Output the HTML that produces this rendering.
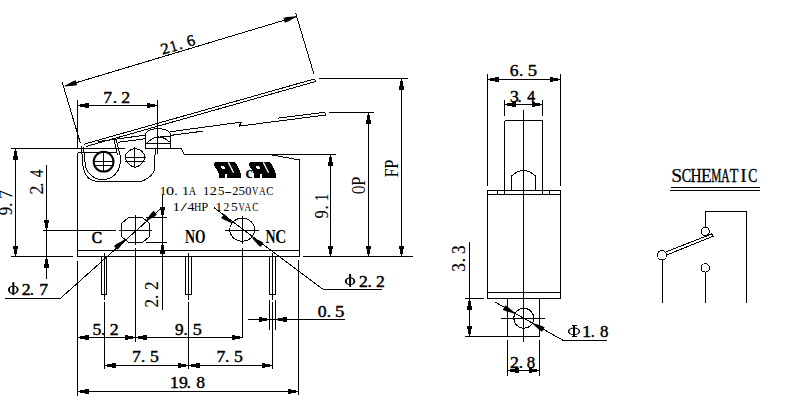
<!DOCTYPE html>
<html><head><meta charset="utf-8"><style>
html,body{margin:0;padding:0;background:#fff;width:790px;height:420px;overflow:hidden}
svg{display:block}
text{fill:#000;stroke:none}
</style></head><body>
<svg width="790" height="420" viewBox="0 0 790 420" stroke="#000" stroke-width="1" fill="none" shape-rendering="crispEdges">
<rect x="0" y="0" width="790" height="420" fill="#fff" stroke="none"/>
<line x1="62.1" y1="81.9" x2="80.5" y2="143.5" stroke-width="1" />
<line x1="295.7" y1="13.3" x2="313.9" y2="73.9" stroke-width="1" />
<line x1="64.5" y1="86.2" x2="296.1" y2="16.7" stroke-width="1" />
<polygon points="64.64,85.63 68.89,83.42 72.46,81.41 75.75,80.21 77.19,85.00 73.78,85.82 69.69,86.10 64.93,86.59" fill="#000" stroke="none" shape-rendering="geometricPrecision"/>
<polygon points="295.96,17.27 291.71,19.48 288.14,21.49 284.85,22.69 283.41,17.90 286.82,17.08 290.91,16.80 295.67,16.31" fill="#000" stroke="none" shape-rendering="geometricPrecision"/>
<text transform="translate(163.0 54.5) rotate(-16.704) translate(-0.51 0) scale(1.064 1.0)" font-size="15.82" font-weight="normal" font-family="Liberation Serif" style="stroke:#000;stroke-width:0.42px">2</text>
<text transform="translate(163.0 54.5) rotate(-16.704) translate(9.04 0) scale(0.853 1.0)" font-size="15.82" font-weight="normal" font-family="Liberation Serif" style="stroke:#000;stroke-width:0.53px">1</text>
<text transform="translate(163.0 54.5) rotate(-16.704) translate(17.26 0) scale(1.000 1.0)" font-size="15.82" font-weight="normal" font-family="Liberation Serif" style="stroke:#000;stroke-width:0.45px">.</text>
<text transform="translate(163.0 54.5) rotate(-16.704) translate(26.55 0) scale(0.999 1.0)" font-size="15.82" font-weight="normal" font-family="Liberation Serif" style="stroke:#000;stroke-width:0.45px">6</text>
<line x1="77.5" y1="100" x2="77.5" y2="148.5" stroke-width="1" />
<line x1="157.5" y1="100" x2="157.5" y2="154" stroke-width="1" />
<line x1="77.5" y1="105.5" x2="157.5" y2="105.5" stroke-width="1" />
<polygon points="79.00,104.60 84.50,104.10 84.70,103.30 88.50,103.30 88.50,107.70 84.70,107.70 84.50,106.90 79.00,106.40" fill="#000" stroke="none"/>
<polygon points="156.00,106.40 150.50,106.90 150.30,107.70 146.50,107.70 146.50,103.30 150.30,103.30 150.50,104.10 156.00,104.60" fill="#000" stroke="none"/>
<text transform="translate(104.3 102.9) translate(-0.94 0) scale(0.999 1.0)" font-size="17.65" font-weight="normal" font-family="Liberation Serif" style="stroke:#000;stroke-width:0.45px">7</text>
<text transform="translate(104.3 102.9) translate(8.34 0) scale(1.000 1.0)" font-size="17.65" font-weight="normal" font-family="Liberation Serif" style="stroke:#000;stroke-width:0.45px">.</text>
<text transform="translate(104.3 102.9) translate(16.84 0) scale(1.010 1.0)" font-size="17.65" font-weight="normal" font-family="Liberation Serif" style="stroke:#000;stroke-width:0.45px">2</text>
<line x1="84" y1="144.2" x2="314.6" y2="78.9" stroke-width="1" />
<line x1="86" y1="146.5" x2="315.3" y2="81.6" stroke-width="1" />
<line x1="314.6" y1="78.9" x2="315.5" y2="81.6" stroke-width="1" />
<line x1="98" y1="141.6" x2="145.5" y2="135.1" stroke-width="1" />
<line x1="170.5" y1="131.7" x2="241.4" y2="122.1" stroke-width="1" />
<line x1="118.2" y1="142.3" x2="145.5" y2="138.7" stroke-width="1" />
<line x1="170.5" y1="135.4" x2="202.7" y2="131.2" stroke-width="1" />
<line x1="241.4" y1="122.1" x2="239.2" y2="126.1" stroke-width="1" />
<line x1="239.2" y1="126.1" x2="326" y2="115" stroke-width="1" />
<line x1="278" y1="118.1" x2="324.7" y2="112.3" stroke-width="1" />
<line x1="324.7" y1="112.3" x2="326" y2="115" stroke-width="1" />
<path d="M81.5 146.5 L82.7 163 Q84 181.5 99 181.5 L140.5 181.5 C147 180 154.5 174 154.5 168 L154.5 155" fill="none" stroke-width="1" />
<path d="M83.5 147 L85 162 A17.5 17.5 0 0 0 120.2 162 L120 155 L116 138.8" fill="none" stroke-width="1" />
<line x1="113.7" y1="138.7" x2="117.5" y2="155" stroke-width="1" />
<circle cx="103.6" cy="161.7" r="9.9" fill="none" stroke-width="2" shape-rendering="geometricPrecision"/>
<line x1="93.5" y1="161.5" x2="113.5" y2="161.5" stroke-width="1" />
<line x1="93.5" y1="165.5" x2="113.5" y2="165.5" stroke-width="1" />
<line x1="103.5" y1="151.5" x2="103.5" y2="172" stroke-width="1" />
<path d="M125 157.5 A10.2 10.2 0 0 1 145.2 157.5 Q143 165 135 167.5 Q127 165 125 157.5" fill="none" stroke-width="1" />
<line x1="124.5" y1="157.5" x2="145.5" y2="157.5" stroke-width="1" />
<line x1="124.8" y1="161.5" x2="145" y2="161.5" stroke-width="1" />
<line x1="134.5" y1="147" x2="134.5" y2="168" stroke-width="1" />
<path d="M145.5 148.5 L145.5 134 C147 130.5 150 128.8 158 128.6 C166 128.8 169 130.5 170.5 134 L170.5 148.5" fill="none" stroke-width="1" />
<line x1="145.5" y1="143.5" x2="170.5" y2="143.5" stroke-width="1" />
<path d="M147 143 Q158 131.5 169.5 142" fill="none" stroke-width="1" />
<line x1="160" y1="136.5" x2="170.5" y2="136.5" stroke-width="1" />
<line x1="155.5" y1="148.5" x2="155.5" y2="154.5" stroke-width="1" />
<line x1="11" y1="148.5" x2="124.5" y2="148.5" stroke-width="1" />
<line x1="145.5" y1="148.5" x2="181" y2="148.5" stroke-width="1" />
<line x1="15.5" y1="148.5" x2="15.5" y2="256.5" stroke-width="1" />
<polygon points="16.40,150.00 16.90,155.50 17.70,155.70 17.70,159.50 13.30,159.50 13.30,155.70 14.10,155.50 14.60,150.00" fill="#000" stroke="none"/>
<polygon points="14.60,255.00 14.10,249.50 13.30,249.30 13.30,245.50 17.70,245.50 17.70,249.30 16.90,249.50 16.40,255.00" fill="#000" stroke="none"/>
<line x1="11" y1="256.5" x2="72.5" y2="256.5" stroke-width="1" />
<text transform="translate(12.2 214.8) rotate(-90.000) translate(-0.49 0) scale(0.933 1.0)" font-size="17.84" font-weight="normal" font-family="Liberation Serif" style="stroke:#000;stroke-width:0.11px">9</text>
<text transform="translate(12.2 214.8) rotate(-90.000) translate(7.92 0) scale(1.000 1.0)" font-size="17.84" font-weight="normal" font-family="Liberation Serif" style="stroke:#000;stroke-width:0.10px">.</text>
<text transform="translate(12.2 214.8) rotate(-90.000) translate(16.10 0) scale(0.982 1.0)" font-size="17.84" font-weight="normal" font-family="Liberation Serif" style="stroke:#000;stroke-width:0.10px">7</text>
<line x1="46.5" y1="165" x2="46.5" y2="279" stroke-width="1" />
<polygon points="45.60,229.00 45.10,223.50 44.30,223.30 44.30,219.50 48.70,219.50 48.70,223.30 47.90,223.50 47.40,229.00" fill="#000" stroke="none"/>
<polygon points="47.40,258.00 47.90,263.50 48.70,263.70 48.70,267.50 44.30,267.50 44.30,263.70 45.10,263.50 45.60,258.00" fill="#000" stroke="none"/>
<line x1="43" y1="230.5" x2="116" y2="230.5" stroke-width="1" />
<text transform="translate(43.1 193.8) rotate(-90.000) translate(-0.73 0) scale(0.984 1.0)" font-size="17.99" font-weight="normal" font-family="Liberation Serif" style="stroke:#000;stroke-width:0.10px">2</text>
<text transform="translate(43.1 193.8) rotate(-90.000) translate(6.91 0) scale(1.000 1.0)" font-size="17.99" font-weight="normal" font-family="Liberation Serif" style="stroke:#000;stroke-width:0.10px">.</text>
<text transform="translate(43.1 193.8) rotate(-90.000) translate(16.45 0) scale(0.849 1.0)" font-size="17.99" font-weight="normal" font-family="Liberation Serif" style="stroke:#000;stroke-width:0.12px">4</text>
<line x1="77.5" y1="152.5" x2="77.5" y2="256.5" stroke-width="1" />
<line x1="77.5" y1="152.5" x2="117" y2="152.5" stroke-width="1" />
<line x1="181" y1="148.5" x2="184.3" y2="154.5" stroke-width="1" />
<line x1="184" y1="154.5" x2="269.3" y2="154.5" stroke-width="1" />
<line x1="269.3" y1="154.5" x2="299.5" y2="160" stroke-width="1" />
<line x1="299.5" y1="160" x2="299.5" y2="256.5" stroke-width="1" />
<line x1="77.5" y1="250.5" x2="299.5" y2="250.5" stroke-width="1" />
<line x1="77.5" y1="256.5" x2="299.5" y2="256.5" stroke-width="1" />
<line x1="269.3" y1="154.5" x2="336" y2="154.5" stroke-width="1" />
<line x1="330.5" y1="154.5" x2="330.5" y2="256.5" stroke-width="1" />
<polygon points="331.40,156.00 331.90,161.50 332.70,161.70 332.70,165.50 328.30,165.50 328.30,161.70 329.10,161.50 329.60,156.00" fill="#000" stroke="none"/>
<polygon points="329.60,255.00 329.10,249.50 328.30,249.30 328.30,245.50 332.70,245.50 332.70,249.30 331.90,249.50 331.40,255.00" fill="#000" stroke="none"/>
<text transform="translate(327.8 218) rotate(-90.000) translate(-0.47 0) scale(0.876 1.0)" font-size="18.45" font-weight="normal" font-family="Liberation Serif" style="stroke:#000;stroke-width:0.11px">9</text>
<text transform="translate(327.8 218) rotate(-90.000) translate(8.28 0) scale(1.000 1.0)" font-size="18.45" font-weight="normal" font-family="Liberation Serif" style="stroke:#000;stroke-width:0.10px">.</text>
<text transform="translate(327.8 218) rotate(-90.000) translate(16.95 0) scale(0.770 1.0)" font-size="18.45" font-weight="normal" font-family="Liberation Serif" style="stroke:#000;stroke-width:0.13px">1</text>
<line x1="329" y1="112.5" x2="374" y2="112.5" stroke-width="1" />
<line x1="368.5" y1="112.5" x2="368.5" y2="256.5" stroke-width="1" />
<polygon points="369.40,114.00 369.90,119.50 370.70,119.70 370.70,123.50 366.30,123.50 366.30,119.70 367.10,119.50 367.60,114.00" fill="#000" stroke="none"/>
<polygon points="367.60,255.00 367.10,249.50 366.30,249.30 366.30,245.50 370.70,245.50 370.70,249.30 369.90,249.50 369.40,255.00" fill="#000" stroke="none"/>
<text transform="translate(364.6 193.5) rotate(-90.000) translate(-0.45 0) scale(0.624 1.0)" font-size="18.39" font-weight="normal" font-family="Liberation Serif" style="stroke:#000;stroke-width:0.08px">O</text>
<text transform="translate(364.6 193.5) rotate(-90.000) translate(7.86 0) scale(0.887 1.0)" font-size="18.39" font-weight="normal" font-family="Liberation Serif" style="stroke:#000;stroke-width:0.06px">P</text>
<line x1="318.5" y1="78.5" x2="407.5" y2="78.5" stroke-width="1" />
<line x1="401.5" y1="78.5" x2="401.5" y2="256.5" stroke-width="1" />
<polygon points="402.40,80.00 402.90,85.50 403.70,85.70 403.70,89.50 399.30,89.50 399.30,85.70 400.10,85.50 400.60,80.00" fill="#000" stroke="none"/>
<polygon points="400.60,255.00 400.10,249.50 399.30,249.30 399.30,245.50 403.70,245.50 403.70,249.30 402.90,249.50 402.40,255.00" fill="#000" stroke="none"/>
<text transform="translate(398 176.8) rotate(-90.000) translate(-0.43 0) scale(0.837 1.0)" font-size="18.85" font-weight="normal" font-family="Liberation Serif" style="stroke:#000;stroke-width:0.06px">F</text>
<text transform="translate(398 176.8) rotate(-90.000) translate(8.06 0) scale(0.866 1.0)" font-size="18.85" font-weight="normal" font-family="Liberation Serif" style="stroke:#000;stroke-width:0.06px">P</text>
<line x1="303" y1="256.5" x2="412.5" y2="256.5" stroke-width="1" />
<polygon points="128.5,217.5 142.5,217.5 149.5,223.5 149.5,236.5 142.5,242.5 128.5,242.5 121.5,236.5 121.5,223.5" fill="none"/>
<line x1="135.5" y1="215" x2="135.5" y2="244.5" stroke-width="1" />
<line x1="135.5" y1="247.5" x2="135.5" y2="342" stroke-width="1" />
<line x1="119" y1="230.5" x2="151.5" y2="230.5" stroke-width="1" />
<line x1="146" y1="217.5" x2="167" y2="217.5" stroke-width="1" />
<line x1="146" y1="242.5" x2="167" y2="242.5" stroke-width="1" />
<line x1="162.5" y1="194.5" x2="162.5" y2="309.5" stroke-width="1" />
<polygon points="161.60,216.00 161.10,210.50 160.30,210.30 160.30,206.50 164.70,206.50 164.70,210.30 163.90,210.50 163.40,216.00" fill="#000" stroke="none"/>
<polygon points="163.40,244.00 163.90,249.50 164.70,249.70 164.70,253.50 160.30,253.50 160.30,249.70 161.10,249.50 161.60,244.00" fill="#000" stroke="none"/>
<text transform="translate(158.1 306.9) rotate(-90.000) translate(-0.71 0) scale(0.918 1.0)" font-size="18.75" font-weight="normal" font-family="Liberation Serif" style="stroke:#000;stroke-width:0.11px">2</text>
<text transform="translate(158.1 306.9) rotate(-90.000) translate(7.76 0) scale(1.000 1.0)" font-size="18.75" font-weight="normal" font-family="Liberation Serif" style="stroke:#000;stroke-width:0.10px">.</text>
<text transform="translate(158.1 306.9) rotate(-90.000) translate(16.89 0) scale(0.918 1.0)" font-size="18.75" font-weight="normal" font-family="Liberation Serif" style="stroke:#000;stroke-width:0.11px">2</text>
<line x1="5" y1="298.5" x2="60.3" y2="298.5" stroke-width="1" />
<line x1="60.3" y1="298.5" x2="163" y2="206.6" stroke-width="1" />
<polygon points="125.11,240.17 122.20,243.97 119.81,247.30 117.32,249.78 114.00,246.04 116.75,243.87 120.33,241.88 124.44,239.43" fill="#000" stroke="none" shape-rendering="geometricPrecision"/>
<polygon points="145.89,220.43 148.78,216.61 151.15,213.27 153.62,210.78 156.96,214.50 154.23,216.69 150.65,218.70 146.56,221.17" fill="#000" stroke="none" shape-rendering="geometricPrecision"/>
<path d="M7.95 289.8 A5.35 4.15 0 1 0 18.65 289.8 A5.35 4.15 0 1 0 7.95 289.8 Z M9.85 289.8 A3.45 3.25 0 1 0 16.75 289.8 A3.45 3.25 0 1 0 9.85 289.8 Z" fill="#000" fill-rule="evenodd" stroke="none" shape-rendering="geometricPrecision"/>
<rect x="12.30" y="282.2" width="2" height="12.90" fill="#000" stroke="none" shape-rendering="geometricPrecision"/>
<text transform="translate(22.4 294.9) translate(-0.56 0) scale(1.066 1.0)" font-size="16.74" font-weight="normal" font-family="Liberation Serif" style="stroke:#000;stroke-width:0.42px">2</text>
<text transform="translate(22.4 294.9) translate(7.30 0) scale(1.000 1.0)" font-size="16.74" font-weight="normal" font-family="Liberation Serif" style="stroke:#000;stroke-width:0.45px">.</text>
<text transform="translate(22.4 294.9) translate(16.86 0) scale(1.054 1.0)" font-size="16.74" font-weight="normal" font-family="Liberation Serif" style="stroke:#000;stroke-width:0.43px">7</text>
<ellipse cx="242.2" cy="229.7" rx="12.4" ry="11.5" fill="none"/>
<line x1="242.5" y1="215.6" x2="242.5" y2="244.4" stroke-width="1" />
<line x1="242.5" y1="247.7" x2="242.5" y2="338" stroke-width="1" />
<line x1="225" y1="230.5" x2="259" y2="230.5" stroke-width="1" />
<line x1="213.6" y1="207.4" x2="322.5" y2="289" stroke-width="1" />
<line x1="322.5" y1="289.5" x2="382" y2="289.5" stroke-width="1" />
<polygon points="232.16,223.53 227.83,221.49 224.07,219.86 221.13,217.96 224.07,213.92 226.78,216.14 229.48,219.22 232.75,222.72" fill="#000" stroke="none" shape-rendering="geometricPrecision"/>
<polygon points="252.64,237.28 256.93,239.40 260.66,241.10 263.57,243.06 260.55,247.04 257.88,244.77 255.24,241.64 252.04,238.08" fill="#000" stroke="none" shape-rendering="geometricPrecision"/>
<path d="M344.85 281.2 A5.25 3.85 0 1 0 355.35 281.2 A5.25 3.85 0 1 0 344.85 281.2 Z M346.75 281.2 A3.35 2.95 0 1 0 353.45 281.2 A3.35 2.95 0 1 0 346.75 281.2 Z" fill="#000" fill-rule="evenodd" stroke="none" shape-rendering="geometricPrecision"/>
<rect x="349.10" y="273.9" width="2" height="12.90" fill="#000" stroke="none" shape-rendering="geometricPrecision"/>
<text transform="translate(359.5 286.8) translate(-0.55 0) scale(1.023 1.0)" font-size="17.20" font-weight="normal" font-family="Liberation Serif" style="stroke:#000;stroke-width:0.44px">2</text>
<text transform="translate(359.5 286.8) translate(7.97 0) scale(1.000 1.0)" font-size="17.20" font-weight="normal" font-family="Liberation Serif" style="stroke:#000;stroke-width:0.45px">.</text>
<text transform="translate(359.5 286.8) translate(16.55 0) scale(1.023 1.0)" font-size="17.20" font-weight="normal" font-family="Liberation Serif" style="stroke:#000;stroke-width:0.44px">2</text>
<rect x="101.5" y="256.5" width="5.0" height="38" fill="none"/>
<line x1="104.5" y1="252.5" x2="104.5" y2="300" stroke-width="1" />
<line x1="104.5" y1="302" x2="104.5" y2="369" stroke-width="1" />
<rect x="185.5" y="256.5" width="6.0" height="38" fill="none"/>
<line x1="188.5" y1="252.5" x2="188.5" y2="300" stroke-width="1" />
<line x1="188.5" y1="302" x2="188.5" y2="369" stroke-width="1" />
<rect x="269.5" y="256.5" width="6.0" height="38" fill="none"/>
<line x1="272.5" y1="252.5" x2="272.5" y2="300" stroke-width="1" />
<line x1="272.5" y1="302" x2="272.5" y2="369" stroke-width="1" />
<line x1="77.5" y1="261" x2="77.5" y2="395.5" stroke-width="1" />
<line x1="298.5" y1="260" x2="298.5" y2="395" stroke-width="1" />
<line x1="77.5" y1="337.5" x2="242.5" y2="337.5" stroke-width="1" />
<polygon points="79.00,336.60 84.50,336.10 84.70,335.30 88.50,335.30 88.50,339.70 84.70,339.70 84.50,338.90 79.00,338.40" fill="#000" stroke="none"/>
<polygon points="134.00,338.40 128.50,338.90 128.30,339.70 124.50,339.70 124.50,335.30 128.30,335.30 128.50,336.10 134.00,336.60" fill="#000" stroke="none"/>
<polygon points="137.00,336.60 142.50,336.10 142.70,335.30 146.50,335.30 146.50,339.70 142.70,339.70 142.50,338.90 137.00,338.40" fill="#000" stroke="none"/>
<polygon points="241.00,338.40 235.50,338.90 235.30,339.70 231.50,339.70 231.50,335.30 235.30,335.30 235.50,336.10 241.00,336.60" fill="#000" stroke="none"/>
<text transform="translate(93.3 334.6) translate(-0.81 0) scale(1.060 1.0)" font-size="16.74" font-weight="normal" font-family="Liberation Serif" style="stroke:#000;stroke-width:0.42px">5</text>
<text transform="translate(93.3 334.6) translate(7.80 0) scale(1.000 1.0)" font-size="16.74" font-weight="normal" font-family="Liberation Serif" style="stroke:#000;stroke-width:0.45px">.</text>
<text transform="translate(93.3 334.6) translate(16.34 0) scale(1.066 1.0)" font-size="16.74" font-weight="normal" font-family="Liberation Serif" style="stroke:#000;stroke-width:0.42px">2</text>
<text transform="translate(175.3 334.6) translate(-0.33 0) scale(1.029 1.0)" font-size="16.74" font-weight="normal" font-family="Liberation Serif" style="stroke:#000;stroke-width:0.44px">9</text>
<text transform="translate(175.3 334.6) translate(8.20 0) scale(1.000 1.0)" font-size="16.74" font-weight="normal" font-family="Liberation Serif" style="stroke:#000;stroke-width:0.45px">.</text>
<text transform="translate(175.3 334.6) translate(17.36 0) scale(1.090 1.0)" font-size="16.74" font-weight="normal" font-family="Liberation Serif" style="stroke:#000;stroke-width:0.41px">5</text>
<line x1="104.5" y1="365.5" x2="272.5" y2="365.5" stroke-width="1" />
<polygon points="106.00,364.60 111.50,364.10 111.70,363.30 115.50,363.30 115.50,367.70 111.70,367.70 111.50,366.90 106.00,366.40" fill="#000" stroke="none"/>
<polygon points="187.00,366.40 181.50,366.90 181.30,367.70 177.50,367.70 177.50,363.30 181.30,363.30 181.50,364.10 187.00,364.60" fill="#000" stroke="none"/>
<polygon points="190.00,364.60 195.50,364.10 195.70,363.30 199.50,363.30 199.50,367.70 195.70,367.70 195.50,366.90 190.00,366.40" fill="#000" stroke="none"/>
<polygon points="271.00,366.40 265.50,366.90 265.30,367.70 261.50,367.70 261.50,363.30 265.30,363.30 265.50,364.10 271.00,364.60" fill="#000" stroke="none"/>
<text transform="translate(132.9 361.7) translate(-0.94 0) scale(1.035 1.0)" font-size="17.04" font-weight="normal" font-family="Liberation Serif" style="stroke:#000;stroke-width:0.43px">7</text>
<text transform="translate(132.9 361.7) translate(8.03 0) scale(1.000 1.0)" font-size="17.04" font-weight="normal" font-family="Liberation Serif" style="stroke:#000;stroke-width:0.45px">.</text>
<text transform="translate(132.9 361.7) translate(17.09 0) scale(1.041 1.0)" font-size="17.04" font-weight="normal" font-family="Liberation Serif" style="stroke:#000;stroke-width:0.43px">5</text>
<text transform="translate(217.5 361.7) translate(-0.94 0) scale(1.035 1.0)" font-size="17.04" font-weight="normal" font-family="Liberation Serif" style="stroke:#000;stroke-width:0.43px">7</text>
<text transform="translate(217.5 361.7) translate(7.38 0) scale(1.000 1.0)" font-size="17.04" font-weight="normal" font-family="Liberation Serif" style="stroke:#000;stroke-width:0.45px">.</text>
<text transform="translate(217.5 361.7) translate(16.49 0) scale(1.041 1.0)" font-size="17.04" font-weight="normal" font-family="Liberation Serif" style="stroke:#000;stroke-width:0.43px">5</text>
<line x1="77.5" y1="391.5" x2="298.5" y2="391.5" stroke-width="1" />
<polygon points="79.00,390.60 84.50,390.10 84.70,389.30 88.50,389.30 88.50,393.70 84.70,393.70 84.50,392.90 79.00,392.40" fill="#000" stroke="none"/>
<polygon points="297.00,392.40 291.50,392.90 291.30,393.70 287.50,393.70 287.50,389.30 291.30,389.30 291.50,390.10 297.00,390.60" fill="#000" stroke="none"/>
<text transform="translate(0 387.7) translate(169.71 0) scale(1.105 1.0)" font-size="16.59" font-weight="normal" font-family="Liberation Serif" style="stroke:#000;stroke-width:0.41px">1</text>
<text transform="translate(0 387.7) translate(179.05 0) scale(1.067 1.0)" font-size="16.59" font-weight="normal" font-family="Liberation Serif" style="stroke:#000;stroke-width:0.42px">9</text>
<text transform="translate(0 387.7) translate(186.81 0) scale(1.000 1.0)" font-size="16.59" font-weight="normal" font-family="Liberation Serif" style="stroke:#000;stroke-width:0.45px">.</text>
<text transform="translate(0 387.7) translate(196.36 0) scale(1.060 1.0)" font-size="16.59" font-weight="normal" font-family="Liberation Serif" style="stroke:#000;stroke-width:0.42px">8</text>
<line x1="269.5" y1="300" x2="269.5" y2="330" stroke-width="1" />
<line x1="275.5" y1="300" x2="275.5" y2="330" stroke-width="1" />
<line x1="248" y1="319.5" x2="344.5" y2="319.5" stroke-width="1" />
<polygon points="268.00,320.40 262.50,320.90 262.30,321.70 258.50,321.70 258.50,317.30 262.30,317.30 262.50,318.10 268.00,318.60" fill="#000" stroke="none"/>
<polygon points="277.00,318.60 282.50,318.10 282.70,317.30 286.50,317.30 286.50,321.70 282.70,321.70 282.50,320.90 277.00,320.40" fill="#000" stroke="none"/>
<text transform="translate(318.3 316.8) translate(-0.45 0) scale(1.045 1.0)" font-size="17.04" font-weight="normal" font-family="Liberation Serif" style="stroke:#000;stroke-width:0.43px">0</text>
<text transform="translate(318.3 316.8) translate(8.38 0) scale(1.000 1.0)" font-size="17.04" font-weight="normal" font-family="Liberation Serif" style="stroke:#000;stroke-width:0.45px">.</text>
<text transform="translate(318.3 316.8) translate(16.64 0) scale(1.100 1.0)" font-size="17.04" font-weight="normal" font-family="Liberation Serif" style="stroke:#000;stroke-width:0.41px">5</text>
<text transform="translate(0 194.8) translate(159.85 0) scale(0.972 1.0)" font-size="13.44" font-weight="normal" font-family="Liberation Serif">1</text>
<text transform="translate(0 194.8) translate(166.08 0) scale(1.211 1.0)" font-size="13.44" font-weight="normal" font-family="Liberation Serif">0</text>
<text transform="translate(0 194.8) translate(174.21 0) scale(1.000 1.0)" font-size="13.44" font-weight="normal" font-family="Liberation Serif">.</text>
<text transform="translate(0 194.8) translate(181.88 0) scale(1.036 1.0)" font-size="13.44" font-weight="normal" font-family="Liberation Serif">1</text>
<text transform="translate(0 194.8) translate(188.70 0) scale(0.760 1.0)" font-size="13.44" font-weight="normal" font-family="Liberation Serif">A</text>
<text transform="translate(0 194.8) translate(202.88 0) scale(0.951 1.0)" font-size="13.44" font-weight="normal" font-family="Liberation Serif">1</text>
<text transform="translate(0 194.8) translate(209.78 0) scale(1.058 1.0)" font-size="13.44" font-weight="normal" font-family="Liberation Serif">2</text>
<text transform="translate(0 194.8) translate(218.04 0) scale(0.979 1.0)" font-size="13.44" font-weight="normal" font-family="Liberation Serif">5</text>
<text transform="translate(0 194.8) translate(224.49 0) scale(1.633 1.0)" font-size="13.44" font-weight="normal" font-family="Liberation Serif">-</text>
<text transform="translate(0 194.8) translate(232.25 0) scale(0.928 1.0)" font-size="13.44" font-weight="normal" font-family="Liberation Serif">2</text>
<text transform="translate(0 194.8) translate(238.54 0) scale(0.979 1.0)" font-size="13.44" font-weight="normal" font-family="Liberation Serif">5</text>
<text transform="translate(0 194.8) translate(245.32 0) scale(0.930 1.0)" font-size="13.44" font-weight="normal" font-family="Liberation Serif">0</text>
<text transform="translate(0 194.8) translate(252.10 0) scale(0.649 1.0)" font-size="13.44" font-weight="normal" font-family="Liberation Serif">V</text>
<text transform="translate(0 194.8) translate(258.91 0) scale(0.686 1.0)" font-size="13.44" font-weight="normal" font-family="Liberation Serif">A</text>
<text transform="translate(0 194.8) translate(266.16 0) scale(0.795 1.0)" font-size="13.44" font-weight="normal" font-family="Liberation Serif">C</text>
<text transform="translate(0 210.9) translate(172.48 0) scale(1.120 1.0)" font-size="13.44" font-weight="normal" font-family="Liberation Serif">1</text>
<text transform="translate(0 210.9) translate(180.60 0) scale(1.741 1.0)" font-size="13.44" font-weight="normal" font-family="Liberation Serif">/</text>
<text transform="translate(0 210.9) translate(187.53 0) scale(1.040 1.0)" font-size="13.44" font-weight="normal" font-family="Liberation Serif">4</text>
<text transform="translate(0 210.9) translate(194.01 0) scale(0.762 1.0)" font-size="13.44" font-weight="normal" font-family="Liberation Serif">H</text>
<text transform="translate(0 210.9) translate(201.14 0) scale(0.931 1.0)" font-size="13.44" font-weight="normal" font-family="Liberation Serif">P</text>
<text transform="translate(0 210.9) translate(215.35 0) scale(1.057 1.0)" font-size="13.44" font-weight="normal" font-family="Liberation Serif">1</text>
<text transform="translate(0 210.9) translate(223.38 0) scale(0.872 1.0)" font-size="13.44" font-weight="normal" font-family="Liberation Serif">2</text>
<text transform="translate(0 210.9) translate(231.02 0) scale(0.997 1.0)" font-size="13.44" font-weight="normal" font-family="Liberation Serif">5</text>
<text transform="translate(0 210.9) translate(238.60 0) scale(0.638 1.0)" font-size="13.44" font-weight="normal" font-family="Liberation Serif">V</text>
<text transform="translate(0 210.9) translate(244.61 0) scale(0.675 1.0)" font-size="13.44" font-weight="normal" font-family="Liberation Serif">A</text>
<text transform="translate(0 210.9) translate(252.32 0) scale(0.691 1.0)" font-size="13.44" font-weight="normal" font-family="Liberation Serif">C</text>
<text transform="translate(0 242.8) translate(91.77 0) scale(0.887 1.0)" font-size="17.38" font-weight="normal" font-family="Liberation Serif" style="stroke:#000;stroke-width:0.68px">C</text>
<text transform="translate(0 243.1) translate(185.04 0) scale(0.729 1.0)" font-size="19.09" font-weight="bold" font-family="Liberation Serif">N</text>
<text transform="translate(0 243.1) translate(194.94 0) scale(0.709 1.0)" font-size="19.09" font-weight="bold" font-family="Liberation Serif">O</text>
<text transform="translate(0 243.1) translate(265.44 0) scale(0.729 1.0)" font-size="19.09" font-weight="bold" font-family="Liberation Serif">N</text>
<text transform="translate(0 243.1) translate(275.25 0) scale(0.807 1.0)" font-size="19.09" font-weight="bold" font-family="Liberation Serif">C</text>
<path d="M215.7 162.0 L235.2 162.0 L240.3 171.5 L241.0 177.7 L227.2 177.7 L227.2 174.3 L224.6 174.3 L224.6 177.7 L218.9 177.7 L218.9 173.2 L214.0 165.0 L214.5 163.3 Z" fill="#000" stroke="none"/>
<path d="M221 166 L224.2 166 L225 169 L222 169 Z" fill="#fff" stroke="none"/>
<line x1="228.3" y1="162.4" x2="233.6" y2="172.8" stroke="#fff" stroke-width="1.3" shape-rendering="geometricPrecision"/>
<path d="M250.7 162.0 L270.2 162.0 L275.3 171.5 L276.0 177.7 L262.2 177.7 L262.2 174.3 L259.6 174.3 L259.6 177.7 L253.9 177.7 L253.9 173.2 L249.0 165.0 L249.5 163.3 Z" fill="#000" stroke="none"/>
<path d="M256 166 L259.2 166 L260 169 L257 169 Z" fill="#fff" stroke="none"/>
<line x1="263.3" y1="162.4" x2="268.6" y2="172.8" stroke="#fff" stroke-width="1.3" shape-rendering="geometricPrecision"/>
<ellipse cx="249.2" cy="174.8" rx="4.2" ry="4.6" fill="#fff" stroke="none"/>
<text transform="translate(0 178.3) translate(245.46 0) scale(0.989 1.0)" font-size="16.04" font-weight="bold" font-family="Liberation Serif">c</text>
<line x1="487.5" y1="74" x2="487.5" y2="185.5" stroke-width="1" />
<line x1="560.5" y1="74" x2="560.5" y2="185.5" stroke-width="1" />
<line x1="487.5" y1="79.5" x2="560.5" y2="79.5" stroke-width="1" />
<polygon points="489.00,78.60 494.50,78.10 494.70,77.30 498.50,77.30 498.50,81.70 494.70,81.70 494.50,80.90 489.00,80.40" fill="#000" stroke="none"/>
<polygon points="559.00,80.40 553.50,80.90 553.30,81.70 549.50,81.70 549.50,77.30 553.30,77.30 553.50,78.10 559.00,78.60" fill="#000" stroke="none"/>
<text transform="translate(510.2 75.7) translate(-0.53 0) scale(1.037 1.0)" font-size="17.04" font-weight="normal" font-family="Liberation Serif" style="stroke:#000;stroke-width:0.43px">6</text>
<text transform="translate(510.2 75.7) translate(8.68 0) scale(1.000 1.0)" font-size="17.04" font-weight="normal" font-family="Liberation Serif" style="stroke:#000;stroke-width:0.45px">.</text>
<text transform="translate(510.2 75.7) translate(17.54 0) scale(1.100 1.0)" font-size="17.04" font-weight="normal" font-family="Liberation Serif" style="stroke:#000;stroke-width:0.41px">5</text>
<line x1="504.5" y1="100" x2="504.5" y2="115.7" stroke-width="1" />
<line x1="542.5" y1="100" x2="542.5" y2="115.7" stroke-width="1" />
<line x1="504.5" y1="120.5" x2="504.5" y2="194.5" stroke-width="1" />
<line x1="542.5" y1="120.5" x2="542.5" y2="194.5" stroke-width="1" />
<line x1="497.5" y1="190.5" x2="497.5" y2="194.5" stroke-width="1" />
<line x1="549.5" y1="190.5" x2="549.5" y2="194.5" stroke-width="1" />
<line x1="504.5" y1="104.5" x2="542.5" y2="104.5" stroke-width="1" />
<polygon points="506.00,103.60 511.50,103.10 511.70,102.30 515.50,102.30 515.50,106.70 511.70,106.70 511.50,105.90 506.00,105.40" fill="#000" stroke="none"/>
<polygon points="541.00,105.40 535.50,105.90 535.30,106.70 531.50,106.70 531.50,102.30 535.30,102.30 535.50,103.10 541.00,103.60" fill="#000" stroke="none"/>
<text transform="translate(510.7 101.6) translate(-0.63 0) scale(1.063 1.0)" font-size="16.74" font-weight="normal" font-family="Liberation Serif" style="stroke:#000;stroke-width:0.42px">3</text>
<text transform="translate(510.7 101.6) translate(6.80 0) scale(1.000 1.0)" font-size="16.74" font-weight="normal" font-family="Liberation Serif" style="stroke:#000;stroke-width:0.45px">.</text>
<text transform="translate(510.7 101.6) translate(16.52 0) scale(0.945 1.0)" font-size="16.74" font-weight="normal" font-family="Liberation Serif" style="stroke:#000;stroke-width:0.48px">4</text>
<line x1="523.5" y1="110" x2="523.5" y2="342" stroke-width="1" />
<line x1="504.5" y1="120.5" x2="542.5" y2="120.5" stroke-width="1" />
<path d="M511.5 190 L511.5 176 Q523.5 165 535.5 176 L535.5 190" fill="none" stroke-width="1" />
<rect x="487.5" y="190.5" width="73" height="108" fill="none"/>
<line x1="487.5" y1="194.5" x2="560.5" y2="194.5" stroke-width="1" />
<line x1="487.5" y1="292.5" x2="560.5" y2="292.5" stroke-width="1" />
<line x1="469.5" y1="241.5" x2="469.5" y2="336.5" stroke-width="1" />
<polygon points="470.40,300.00 470.90,305.50 471.70,305.70 471.70,309.50 467.30,309.50 467.30,305.70 468.10,305.50 468.60,300.00" fill="#000" stroke="none"/>
<polygon points="468.60,335.00 468.10,329.50 467.30,329.30 467.30,325.50 471.70,325.50 471.70,329.30 470.90,329.50 470.40,335.00" fill="#000" stroke="none"/>
<line x1="464.5" y1="298.5" x2="483.5" y2="298.5" stroke-width="1" />
<line x1="464.5" y1="336.5" x2="539.5" y2="336.5" stroke-width="1" />
<text transform="translate(465.2 270.9) rotate(-90.000) translate(-0.77 0) scale(0.902 1.0)" font-size="19.06" font-weight="normal" font-family="Liberation Serif" style="stroke:#000;stroke-width:0.11px">3</text>
<text transform="translate(465.2 270.9) rotate(-90.000) translate(8.34 0) scale(1.000 1.0)" font-size="19.06" font-weight="normal" font-family="Liberation Serif" style="stroke:#000;stroke-width:0.10px">.</text>
<text transform="translate(465.2 270.9) rotate(-90.000) translate(16.93 0) scale(0.902 1.0)" font-size="19.06" font-weight="normal" font-family="Liberation Serif" style="stroke:#000;stroke-width:0.11px">3</text>
<rect x="507.5" y="298.5" width="32" height="38" fill="none"/>
<circle cx="523.8" cy="318.3" r="10" fill="none" stroke-width="1"/>
<line x1="501" y1="318.5" x2="545" y2="318.5" stroke-width="1" />
<line x1="495.2" y1="302.1" x2="563.3" y2="340.5" stroke-width="1" />
<line x1="563.3" y1="340.5" x2="607" y2="340.5" stroke-width="1" />
<polygon points="514.50,313.79 509.94,312.32 506.01,311.18 502.84,309.67 505.25,305.29 508.22,307.15 511.29,309.86 514.98,312.92" fill="#000" stroke="none" shape-rendering="geometricPrecision"/>
<polygon points="533.01,322.92 537.53,324.50 541.44,325.73 544.57,327.31 542.06,331.63 539.13,329.71 536.12,326.92 532.51,323.78" fill="#000" stroke="none" shape-rendering="geometricPrecision"/>
<path d="M567.80 331.3 A6.20 3.70 0 1 0 580.20 331.3 A6.20 3.70 0 1 0 567.80 331.3 Z M569.40 331.3 A4.60 2.90 0 1 0 578.60 331.3 A4.60 2.90 0 1 0 569.40 331.3 Z" fill="#000" fill-rule="evenodd" stroke="none" shape-rendering="geometricPrecision"/>
<rect x="573.00" y="325.2" width="2" height="11.90" fill="#000" stroke="none" shape-rendering="geometricPrecision"/>
<rect x="571.50" y="325.2" width="5.00" height="1" fill="#000" stroke="none"/>
<rect x="571.50" y="336.10" width="5.00" height="1" fill="#000" stroke="none"/>
<text transform="translate(0 337.4) translate(581.89 0) scale(1.154 1.0)" font-size="16.13" font-weight="normal" font-family="Liberation Serif" style="stroke:#000;stroke-width:0.39px">1</text>
<text transform="translate(0 337.4) translate(590.64 0) scale(1.000 1.0)" font-size="16.13" font-weight="normal" font-family="Liberation Serif" style="stroke:#000;stroke-width:0.45px">.</text>
<text transform="translate(0 337.4) translate(599.98 0) scale(1.046 1.0)" font-size="16.13" font-weight="normal" font-family="Liberation Serif" style="stroke:#000;stroke-width:0.43px">8</text>
<line x1="507.5" y1="340" x2="507.5" y2="375.5" stroke-width="1" />
<line x1="539.5" y1="340" x2="539.5" y2="375.5" stroke-width="1" />
<line x1="507.5" y1="370.5" x2="539.5" y2="370.5" stroke-width="1" />
<polygon points="509.00,369.60 514.50,369.10 514.70,368.30 518.50,368.30 518.50,372.70 514.70,372.70 514.50,371.90 509.00,371.40" fill="#000" stroke="none"/>
<polygon points="538.00,371.40 532.50,371.90 532.30,372.70 528.50,372.70 528.50,368.30 532.30,368.30 532.50,369.10 538.00,369.60" fill="#000" stroke="none"/>
<text transform="translate(510.5 367.7) translate(-0.56 0) scale(1.046 1.0)" font-size="17.04" font-weight="normal" font-family="Liberation Serif" style="stroke:#000;stroke-width:0.43px">2</text>
<text transform="translate(510.5 367.7) translate(8.18 0) scale(1.000 1.0)" font-size="17.04" font-weight="normal" font-family="Liberation Serif" style="stroke:#000;stroke-width:0.45px">.</text>
<text transform="translate(510.5 367.7) translate(16.28 0) scale(0.990 1.0)" font-size="17.04" font-weight="normal" font-family="Liberation Serif" style="stroke:#000;stroke-width:0.45px">8</text>
<text transform="translate(0 181.5) translate(671.22 0) scale(1.058 1.0)" font-size="18.48" font-weight="normal" font-family="Liberation Serif" style="stroke:#000;stroke-width:0.24px">S</text>
<text transform="translate(0 181.5) translate(681.75 0) scale(0.763 1.0)" font-size="18.48" font-weight="normal" font-family="Liberation Serif" style="stroke:#000;stroke-width:0.33px">C</text>
<text transform="translate(0 181.5) translate(690.48 0) scale(0.827 1.0)" font-size="18.48" font-weight="normal" font-family="Liberation Serif" style="stroke:#000;stroke-width:0.30px">H</text>
<text transform="translate(0 181.5) translate(701.12 0) scale(0.941 1.0)" font-size="18.48" font-weight="normal" font-family="Liberation Serif" style="stroke:#000;stroke-width:0.27px">E</text>
<text transform="translate(0 181.5) translate(711.30 0) scale(0.615 1.0)" font-size="18.48" font-weight="normal" font-family="Liberation Serif" style="stroke:#000;stroke-width:0.41px">M</text>
<text transform="translate(0 181.5) translate(721.21 0) scale(0.626 1.0)" font-size="18.48" font-weight="normal" font-family="Liberation Serif" style="stroke:#000;stroke-width:0.40px">A</text>
<text transform="translate(0 181.5) translate(729.77 0) scale(0.765 1.0)" font-size="18.48" font-weight="normal" font-family="Liberation Serif" style="stroke:#000;stroke-width:0.33px">T</text>
<text transform="translate(0 181.5) translate(740.13 0) scale(1.044 1.0)" font-size="18.48" font-weight="normal" font-family="Liberation Serif" style="stroke:#000;stroke-width:0.24px">I</text>
<text transform="translate(0 181.5) translate(748.27 0) scale(0.735 1.0)" font-size="18.48" font-weight="normal" font-family="Liberation Serif" style="stroke:#000;stroke-width:0.34px">C</text>
<line x1="671" y1="187.5" x2="760" y2="187.5" stroke-width="1" />
<line x1="670" y1="190.5" x2="760" y2="190.5" stroke-width="1" />
<path d="M705.5 227 L705.5 211.5 L746.5 211.5 L746.5 303" fill="none" stroke-width="1" />
<circle cx="705.2" cy="231.4" r="4.2" fill="none" stroke-width="1"/>
<circle cx="662" cy="255.2" r="4.6" fill="none" stroke-width="1"/>
<circle cx="705.2" cy="267.9" r="4.2" fill="none" stroke-width="1"/>
<line x1="662.5" y1="259.5" x2="662.5" y2="303" stroke-width="1" />
<line x1="705.5" y1="272" x2="705.5" y2="303" stroke-width="1" />
<path d="M666.2 251.8 L711.8 233.9 L713.2 236.2 L666.2 255.2" fill="none" stroke-width="1" />
</svg>
</body></html>
